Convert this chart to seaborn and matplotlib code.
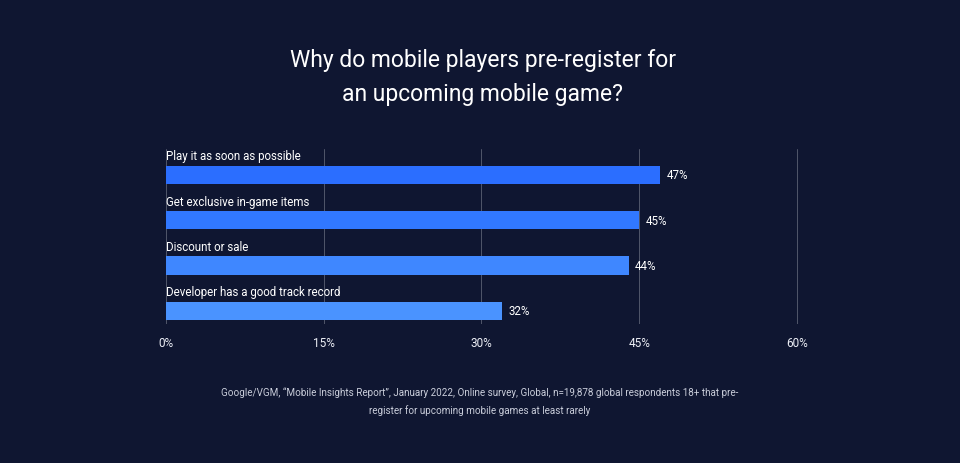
import pandas as pd
import seaborn as sns
import matplotlib.pyplot as plt

# Dados
categorias = ['Play it as soon as possible', 'Get exclusive in-game items',
              'Discount or sale', 'Developer has a good track record']
valores = [47, 45, 44, 32]
ticks = [0, 15, 30, 45, 60]
cores = ['#2b6eff', '#3178ff', '#3f87ff', '#4a93ff']

titulo = 'Why do mobile players pre-register for\nan upcoming mobile game?'
fonte = ('Google/VGM, \u201cMobile Insights Report\u201d, January 2022, Online survey, Global, '
         'n=19,878 global respondents 18+ that pre-\nregister for upcoming mobile games at least rarely')

fundo = '#0f1631'
sns.set_style('dark')
plt.rcParams['font.family'] = ['Roboto', 'DejaVu Sans']

df = pd.DataFrame({'categoria': categorias, 'valor': valores})

fig = plt.figure(figsize=(9.6, 4.64), dpi=100, facecolor=fundo)
ax = fig.add_axes([0.1729, 0.2996, 0.6583, 0.3771])
ax.set_facecolor(fundo)

sns.barplot(data=df, x='valor', y='categoria', hue='categoria', palette=cores,
            legend=False, width=0.4, saturation=1, linewidth=0, ax=ax, zorder=3)

ax.set_xlim(0, 60.1)
ax.set_ylim(3.29, -0.57)
ax.set_xticks(ticks)
ax.set_xticklabels([f'{t}%' for t in ticks], color='#eceef5', fontsize=8.5)
ax.set_yticks([])
ax.set_xlabel('')
ax.set_ylabel('')
ax.tick_params(axis='x', length=0, pad=9)
ax.grid(axis='x', color='#51566a', linewidth=0.7, zorder=0)
ax.grid(axis='y', visible=False)
for s in ax.spines.values():
    s.set_visible(False)

for i, (cat, v) in enumerate(zip(categorias, valores)):
    ax.text(0, i - 0.42, cat, color='white', fontsize=8.3, ha='left', va='center')
    ax.text(v + 0.6, i, f'{v}%', color='white', fontsize=8.3, ha='left', va='center')

fig.text(0.503, 0.833, titulo, color='white', fontsize=16.5, ha='center', va='center',
         linespacing=1.65)
fig.text(0.5, 0.134, fonte, color='#c9cdda', fontsize=7.1, ha='center', va='center',
         linespacing=1.8)

fig.savefig('out.png', dpi=100, facecolor=fundo)
